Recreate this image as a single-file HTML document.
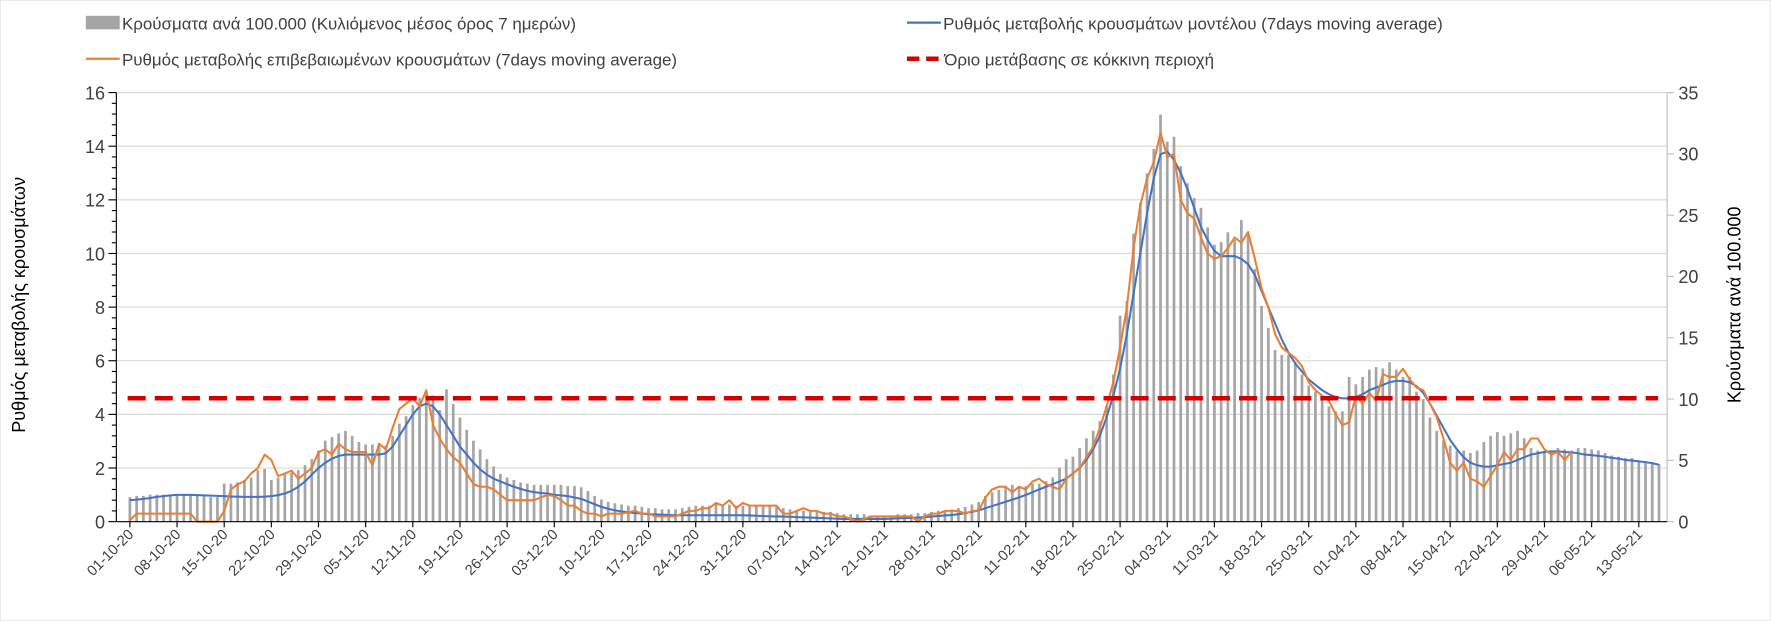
<!DOCTYPE html>
<html><head><meta charset="utf-8"><style>
html,body{margin:0;padding:0;background:#fff;}
svg{display:block;font-family:"Liberation Sans","DejaVu Sans",sans-serif;}
</style></head><body>
<svg id="chart" width="1771" height="621" viewBox="0 0 1568 550" preserveAspectRatio="none" xmlns="http://www.w3.org/2000/svg">
<rect x="0" y="0" width="1568" height="550" fill="#fff" stroke="#d9d9d9" stroke-width="1"/>
<g font-size="15" fill="#404040">
  <g><rect x="76" y="14" width="30" height="12" fill="#a5a5a5"/><text x="108" y="26">Κρούσματα ανά 100.000 (Κυλιόμενος μέσος όρος 7 ημερών)</text></g>
  <g><line x1="803" y1="20" x2="833" y2="20" stroke="#4472c4" stroke-width="2"/><text x="835" y="26">Ρυθμός μεταβολής κρουσμάτων μοντέλου (7days moving average)</text></g>
  <g><line x1="76" y1="52" x2="106" y2="52" stroke="#ed7d31" stroke-width="2"/><text x="108" y="58">Ρυθμός μεταβολής επιβεβαιωμένων κρουσμάτων (7days moving average)</text></g>
  <g><line x1="803" y1="52" x2="833" y2="52" stroke="#d40000" stroke-width="4" stroke-dasharray="11,6"/><text x="836" y="58">Όριο μετάβασης σε κόκκινη περιοχή</text></g>
</g>
<text transform="translate(22,270) rotate(-90)" text-anchor="middle" font-size="16" fill="#000">Ρυθμός μεταβολής κρουσμάτων</text>
<text transform="translate(1541,270) rotate(-90)" text-anchor="middle" font-size="16" fill="#000">Κρούσματα ανά 100.000</text>
<g id="grid"></g><g id="bars"></g><g id="lines"></g><g id="axes"></g>
</svg>
<script>
const startDate = [2020, 10, 1];
const cases = [
2.0,2.1,2.1,2.2,2.2,2.2,2.2,
2.2,2.2,2.2,2.1,2.1,2.0,2.0,
3.1,3.1,3.2,3.4,3.6,4.2,4.3,
3.4,3.6,3.9,4.0,4.2,4.6,5.1,
5.8,6.6,6.9,7.2,7.4,7.0,6.5,
6.3,6.3,6.3,6.2,7.0,8.0,8.6,
9.5,10.1,10.4,10.3,9.1,10.8,9.6,
8.5,7.5,6.6,5.9,5.1,4.5,3.9,
3.6,3.4,3.2,3.1,3.0,3.0,3.0,
3.0,3.0,2.9,2.9,2.8,2.5,2.1,
1.8,1.6,1.5,1.4,1.3,1.3,1.2,
1.1,1.1,1.0,1.0,1.0,1.1,1.2,
1.3,1.3,1.3,1.4,1.4,1.4,1.3,
1.3,1.3,1.3,1.3,1.3,1.2,1.1,
1.0,0.9,0.9,0.9,0.8,0.8,0.8,
0.7,0.6,0.6,0.6,0.6,0.5,0.5,
0.5,0.5,0.6,0.6,0.6,0.7,0.7,
0.8,0.9,0.9,1.0,1.1,1.2,1.4,
1.6,2.1,2.4,2.6,2.8,3.0,2.9,
2.9,3.1,3.1,3.3,3.6,4.4,5.1,
5.3,6.0,6.8,7.4,8.2,9.4,12.0,
16.8,18.0,23.5,26.0,28.4,30.4,33.2,
31.0,31.4,29.0,27.6,26.4,25.6,24.0,
22.6,22.8,23.6,23.0,24.6,23.6,20.6,
17.6,15.8,14.0,13.6,13.6,13.0,12.0,
11.1,10.6,10.0,9.4,9.0,9.0,11.8,
11.2,11.8,12.4,12.6,12.5,13.0,12.4,
11.8,11.8,10.6,10.0,8.5,7.4,6.6,
6.2,5.8,5.8,5.6,5.8,6.5,7.0,
7.3,7.0,7.2,7.4,6.8,6.0,5.8,
5.7,5.8,6.0,5.9,5.8,6.0,6.0,
5.9,5.8,5.6,5.4,5.3,5.2,5.2,
5.0,4.9,4.8,4.7];
const modelRate = [
.80,.82,.85,.88,.92,.95,.98,
1.0,1.0,1.0,.99,.98,.97,.96,
.95,.94,.93,.92,.92,.92,.93,
.95,.99,1.05,1.15,1.3,1.5,1.75,
2.0,2.2,2.35,2.45,2.5,2.5,2.5,
2.5,2.5,2.5,2.55,2.8,3.2,3.6,
4.0,4.3,4.4,4.3,4.0,3.6,3.2,
2.8,2.5,2.2,1.95,1.75,1.6,1.5,
1.4,1.3,1.22,1.15,1.1,1.07,1.05,
1.0,.98,.95,.9,.85,.75,.65,
.55,.48,.42,.38,.35,.32,.3,
.28,.27,.26,.25,.24,.24,.24,
.24,.24,.24,.24,.24,.24,.24,
.24,.23,.22,.21,.2,.2,.19,
.18,.17,.16,.15,.14,.13,.12,
.11,.1,.1,.1,.1,.1,.1,
.1,.11,.12,.13,.14,.15,.17,
.19,.21,.23,.25,.28,.32,.36,
.42,.5,.58,.66,.74,.82,.9,
1.0,1.1,1.2,1.3,1.4,1.5,1.6,
1.8,2.0,2.3,2.7,3.2,3.9,4.7,
5.7,7.0,8.5,10.0,11.5,12.8,13.7,
13.8,13.5,13.0,12.4,11.7,11.0,10.5,
10.1,9.9,9.9,9.9,9.8,9.6,9.2,
8.6,8.0,7.4,6.8,6.3,5.9,5.6,
5.3,5.1,4.9,4.75,4.65,4.6,4.6,
4.65,4.75,4.9,5.0,5.1,5.2,5.25,
5.25,5.2,5.05,4.8,4.4,3.95,3.5,
3.05,2.7,2.4,2.2,2.1,2.05,2.05,
2.1,2.15,2.2,2.3,2.4,2.5,2.55,
2.6,2.62,2.62,2.6,2.58,2.55,2.5,
2.48,2.45,2.42,2.38,2.35,2.3,2.28,
2.25,2.22,2.18,2.12];
const confirmedRate = [
0.05,0.3,0.3,0.3,0.3,0.3,0.3,
0.3,0.3,0.3,0,0,0,0,
0.4,1.2,1.4,1.5,1.8,2.0,2.5,
2.3,1.7,1.8,1.9,1.6,1.8,2.0,
2.6,2.7,2.5,2.9,2.7,2.6,2.6,
2.6,2.1,2.9,2.7,3.5,4.2,4.4,
4.6,4.3,4.9,3.6,3.1,2.7,2.4,
2.2,1.8,1.4,1.3,1.3,1.2,1.0,
0.8,0.8,0.8,0.8,0.8,0.9,1.0,
0.95,0.8,0.6,0.6,0.4,0.3,0.3,
0.2,0.3,0.3,0.3,0.35,0.4,0.3,
0.3,0.2,0.2,0.2,0.2,0.3,0.4,
0.4,0.5,0.5,0.7,0.6,0.8,0.5,
0.7,0.6,0.6,0.6,0.6,0.6,0.3,
0.3,0.4,0.5,0.4,0.4,0.3,0.3,
0.2,0.2,0.1,0.0,0.1,0.2,0.2,
0.2,0.2,0.2,0.2,0.2,0.0,0.2,
0.3,0.3,0.4,0.4,0.4,0.3,0.4,
0.4,0.9,1.2,1.3,1.3,1.1,1.3,
1.2,1.5,1.6,1.4,1.3,1.2,1.6,
1.8,2.0,2.4,2.8,3.5,4.3,5.2,
6.5,8.0,10.2,11.8,12.8,13.4,14.5,
13.6,13.7,12.0,11.5,11.3,10.6,10.0,
9.8,9.9,10.2,10.6,10.4,10.8,9.8,
8.7,8.0,7.0,6.5,6.3,6.1,5.8,
5.2,4.9,4.7,4.5,4.0,3.6,3.7,
4.7,4.4,4.8,4.5,5.5,5.4,5.4,
5.7,5.3,5.0,4.9,4.4,3.9,3.1,
2.2,1.9,2.2,1.6,1.5,1.3,1.7,
2.1,2.6,2.3,2.7,2.7,3.1,3.1,
2.7,2.5,2.6,2.3,2.6];
const threshold = [4.6];
const leftTicks = [0,2,4,6,8,10,12,14,16];
const rightTicks = [0,5,10,15,20,25,30,35];

const NS = 'http://www.w3.org/2000/svg';
const X0 = 103, X1 = 1476, Y0 = 462, Y1 = 82;
const xDay = d => 115 + d * 5.964;
const yL = v => Y0 - (v / 16) * (Y0 - Y1);
const yR = v => Y0 - (v / 35) * (Y0 - Y1);
function mk(tag, attrs, parent) { const e = document.createElementNS(NS, tag); for (const k in attrs) e.setAttribute(k, attrs[k]); parent.appendChild(e); return e; }
const grid = document.getElementById('grid'), bars = document.getElementById('bars'), lines = document.getElementById('lines'), axes = document.getElementById('axes');

leftTicks.forEach(t => {
  if (t > 0) { const g = mk('line', {x1: X0, x2: X1, y1: yL(t), y2: yL(t), stroke: '#d9d9d9', 'stroke-width': 1}, grid);
    
     }
  mk('line', {x1: X0 - 7, x2: X0, y1: yL(t), y2: yL(t), stroke: '#000', 'stroke-width': 1}, axes);
  const tx = mk('text', {x: X0 - 10, y: yL(t) + 6, 'text-anchor': 'end', 'font-size': 16, fill: '#404040'}, axes);
  tx.textContent = t;
  
  
  if (t < 16) for (let m = 1; m < 5; m++) mk('line', {x1: X0 - 4, x2: X0, y1: yL(t + m * 0.4), y2: yL(t + m * 0.4), stroke: '#000', 'stroke-width': 1}, axes);
});
mk('line', {x1: X0, x2: X0, y1: Y1, y2: Y0, stroke: '#000', 'stroke-width': 1}, axes);
mk('line', {x1: X1, x2: X1, y1: Y1, y2: Y0, stroke: '#bfbfbf', 'stroke-width': 1}, axes);
rightTicks.forEach(t => {
  mk('line', {x1: X1, x2: X1 + 6, y1: yR(t), y2: yR(t), stroke: '#bfbfbf', 'stroke-width': 1}, axes);
  const tx = mk('text', {x: X1 + 10, y: yR(t) + 6, 'font-size': 16, fill: '#404040'}, axes);
  tx.textContent = t;
  
  
});
mk('line', {x1: X0, x2: X1, y1: Y0, y2: Y0, stroke: '#000', 'stroke-width': 1}, axes);

cases.forEach((v, i) => {
  const r = mk('rect', {x: xDay(i) - 1.2, y: yR(v), width: 2.4, height: Y0 - yR(v), fill: '#a5a5a5'}, bars);
  
  
});
function drawLine(arr, color, name) {
  const p = mk('polyline', {points: arr.map((v, i) => xDay(i).toFixed(1) + ',' + yL(v).toFixed(1)).join(' '), fill: 'none', stroke: color, 'stroke-width': 1.8, 'stroke-linejoin': 'round'}, lines);
  
  
}
drawLine(modelRate, '#4472c4', 'model-rate-line');
drawLine(confirmedRate, '#ed7d31', 'confirmed-rate-line');
const th = mk('line', {x1: X0 + 10, x2: X1 - 8, y1: yL(threshold[0]), y2: yL(threshold[0]), stroke: '#d40000', 'stroke-width': 4, 'stroke-dasharray': '16,8'}, lines);



const n = cases.length;
for (let d = 0; d < n; d += 7) {
  const x = xDay(d);
  mk('line', {x1: x, x2: x, y1: Y0, y2: Y0 + 5, stroke: '#000', 'stroke-width': 1}, axes);
  const dt = new Date(startDate[0], startDate[1] - 1, startDate[2] + d);
  const lab = String(dt.getDate()).padStart(2, '0') + '-' + String(dt.getMonth() + 1).padStart(2, '0') + '-' + String(dt.getFullYear()).slice(2);
  const tx = mk('text', {x: x + 4, y: Y0 + 12, 'text-anchor': 'end', 'font-size': 13, fill: '#404040', transform: 'rotate(-45 ' + (x + 4) + ' ' + (Y0 + 12) + ')'}, axes);
  tx.textContent = lab;
  
  
}
</script>
</body></html>
